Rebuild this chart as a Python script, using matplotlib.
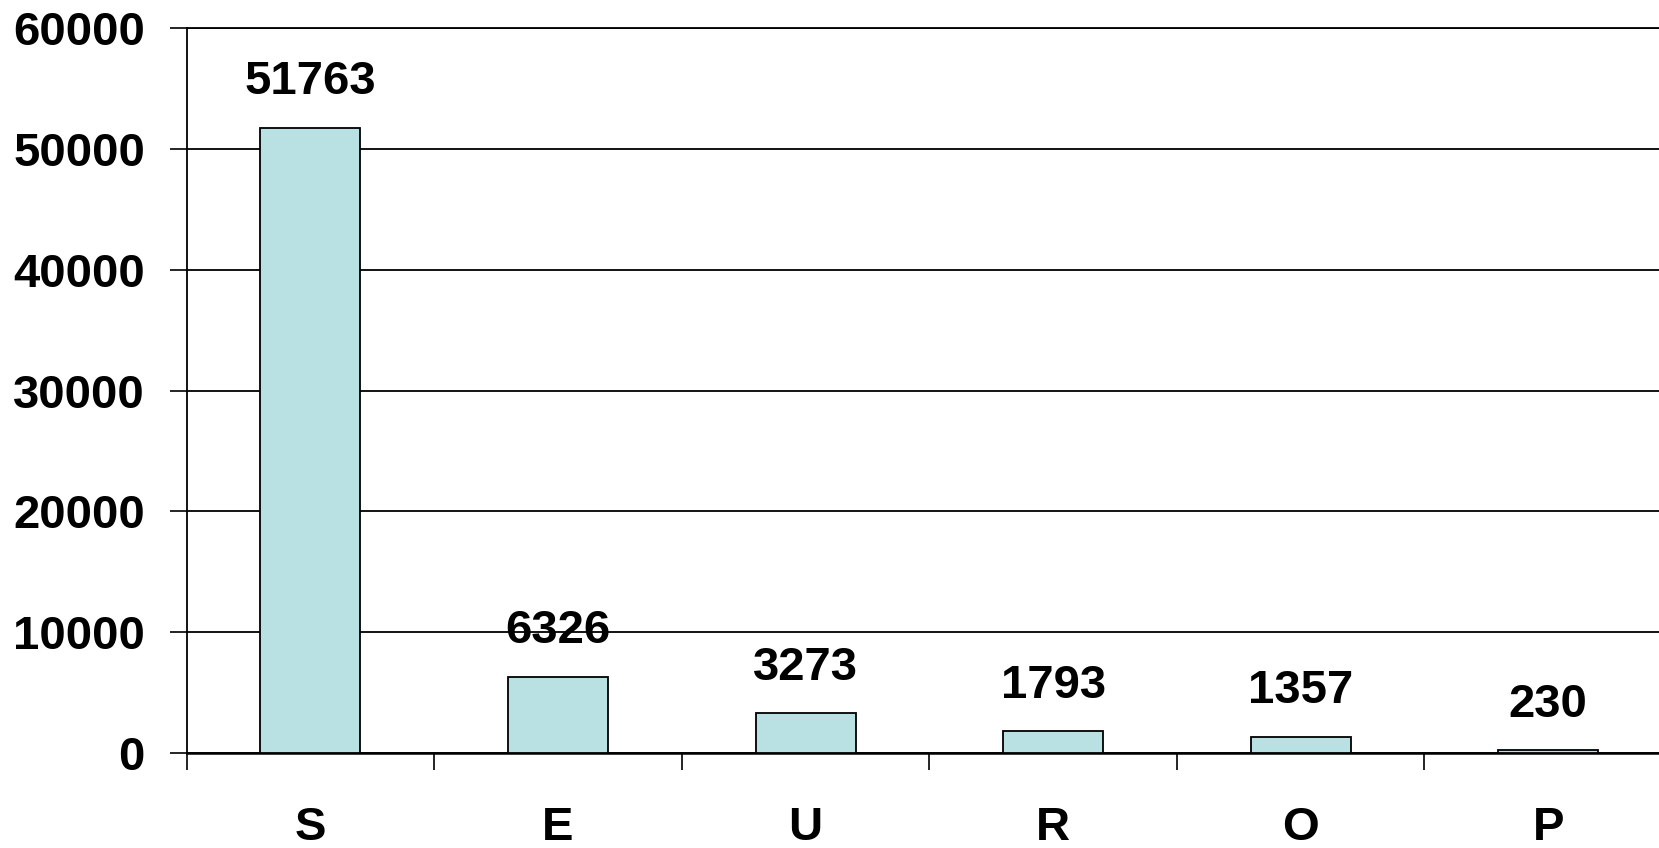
import matplotlib.pyplot as plt

categories = ['S', 'E', 'U', 'R', 'O', 'P']
values = [51763, 6326, 3273, 1793, 1357, 230]
y_ticks = [0, 10000, 20000, 30000, 40000, 50000, 60000]

plt.rcParams['font.family'] = ['Liberation Sans', 'DejaVu Sans']
plt.rcParams['font.weight'] = 'bold'

fig = plt.figure(figsize=(16.59, 8.48), dpi=100)
ax = fig.add_axes([0.1125, 0.112, 0.8953, 0.855])

x = list(range(len(categories)))
bars = ax.bar(x, values, width=0.404, color='#b9e0e3', edgecolor='black',
              linewidth=1.3, zorder=3)

# подписи значений над столбцами
for xi, v in zip(x, values):
    ax.annotate(str(v), (xi, v), xytext=(0, 17), textcoords='offset points',
                ha='center', va='bottom', fontsize=34, fontweight='bold')

ax.set_xlim(-0.5, len(categories) - 0.5)
ax.set_ylim(0, 60000)
ax.set_yticks(y_ticks)
ax.set_yticklabels([str(t) for t in y_ticks], fontsize=34, fontweight='bold')
ax.yaxis.grid(True, color='black', linewidth=1.3, zorder=0)
ax.set_axisbelow(True)

ax.set_xticks(x)
ax.set_xticklabels(categories, fontsize=34, fontweight='bold')
ax.set_xticks([i - 0.5 for i in range(len(categories) + 1)], minor=True)
ax.tick_params(axis='x', which='major', length=0, pad=38)
ax.tick_params(axis='x', which='minor', length=12, width=1.2, direction='out')
ax.tick_params(axis='y', length=12, width=1.2, direction='out', pad=18)

for side in ['left', 'top', 'right']:
    ax.spines[side].set_linewidth(1.3)
ax.spines['bottom'].set_linewidth(1.8)

fig.savefig('out.png', dpi=100)
